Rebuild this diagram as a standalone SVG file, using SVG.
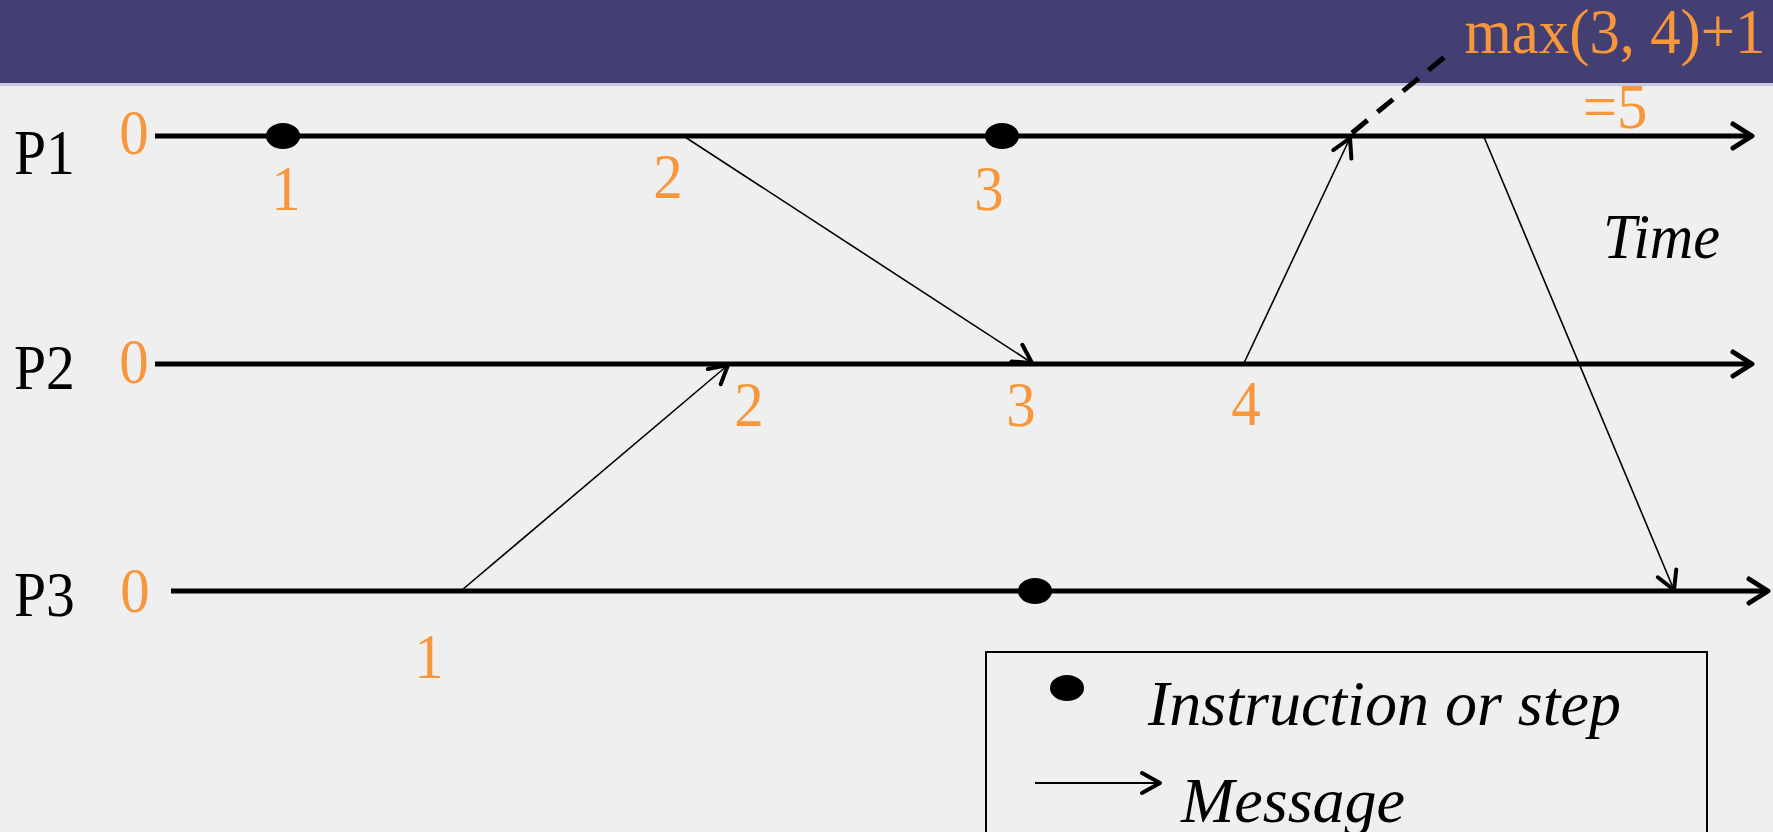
<svg xmlns="http://www.w3.org/2000/svg" width="1773" height="832" viewBox="0 0 1773 832">
<defs>
<style>
.bg{fill:#EFEFEF}
.tl{stroke:#000;stroke-width:5;fill:none}
.msg{stroke:#000;stroke-width:1.6;fill:none}
.dot{fill:#000}
.lbl{font-family:"Liberation Serif","Times New Roman",serif;font-size:64px;fill:#000}
.num{font-family:"Liberation Serif","Times New Roman",serif;font-size:64px;fill:#F7963A;text-anchor:middle}
.it{font-style:italic}
</style>
<marker id="bigArrow" markerUnits="userSpaceOnUse" viewBox="-24 -16 28 32" refX="0" refY="0" markerWidth="28" markerHeight="32" orient="auto" overflow="visible">
<path d="M -19 -12 L 0 0 L -19 12" fill="none" stroke="#000" stroke-width="5" stroke-linecap="round" stroke-linejoin="round"/>
</marker>
<marker id="msgArrow" markerUnits="userSpaceOnUse" viewBox="-24 -16 28 32" refX="0" refY="0" markerWidth="28" markerHeight="32" orient="auto" overflow="visible">
<path d="M -18 -10 L 0 0 L -18 10" fill="none" stroke="#000" stroke-width="4" stroke-linecap="round" stroke-linejoin="round"/>
</marker>
</defs>
<rect class="bg" x="0" y="0" width="1773" height="832"/>
<rect x="0" y="0" width="1773" height="83" fill="#433F73"/>
<rect x="0" y="83" width="1773" height="3" fill="#C9C7E6"/>
<rect x="0" y="86" width="1773" height="4" fill="#EDEEE8"/>

<g id="timelines">
<g id="p1">
<text class="lbl" transform="matrix(0.9 0 0 1 14 174)">P1</text>
<text class="num" transform="matrix(0.92 0 0 1 134 154)">0</text>
<line class="tl" x1="155" y1="136" x2="1752" y2="136" marker-end="url(#bigArrow)"/>
</g>
<g id="p2">
<text class="lbl" transform="matrix(0.9 0 0 1 14 389)">P2</text>
<text class="num" transform="matrix(0.92 0 0 1 134 383)">0</text>
<line class="tl" x1="155" y1="364" x2="1752" y2="364" marker-end="url(#bigArrow)"/>
</g>
<g id="p3">
<text class="lbl" transform="matrix(0.9 0 0 1 14 616)">P3</text>
<text class="num" transform="matrix(0.92 0 0 1 135 612)">0</text>
<line class="tl" x1="171" y1="591" x2="1768" y2="591" marker-end="url(#bigArrow)"/>
</g>
</g>

<g id="events">
<ellipse class="dot" cx="283" cy="136" rx="17" ry="13"/>
<ellipse class="dot" cx="1002" cy="136" rx="17" ry="13"/>
<ellipse class="dot" cx="1035" cy="591" rx="17" ry="13"/>
</g>

<g id="connectors">
<line class="msg" x1="685" y1="137" x2="1032" y2="363" marker-end="url(#msgArrow)"/>
<line class="msg" x1="462" y1="590" x2="728" y2="365" marker-end="url(#msgArrow)"/>
<line class="msg" x1="1244" y1="363" x2="1350" y2="138" marker-end="url(#msgArrow)"/>
<line class="msg" x1="1484" y1="137" x2="1674" y2="590" marker-end="url(#msgArrow)"/>
<line x1="1352" y1="133" x2="1453" y2="50" stroke="#000" stroke-width="5" stroke-dasharray="20 13"/>
</g>

<g id="clock-labels">
<text class="num" transform="matrix(0.92 0 0 1 286 210)">1</text>
<text class="num" transform="matrix(0.92 0 0 1 668 198)">2</text>
<text class="num" transform="matrix(0.92 0 0 1 989 210)">3</text>
<text class="num" transform="matrix(0.92 0 0 1 749 426)">2</text>
<text class="num" transform="matrix(0.92 0 0 1 1021 426)">3</text>
<text class="num" transform="matrix(0.92 0 0 1 1246 425)">4</text>
<text class="num" transform="matrix(0.92 0 0 1 429 678)">1</text>
<text class="num" transform="matrix(0.95 0 0 1 1615 53)">max(3, 4)+1</text>
<text class="num" transform="matrix(0.95 0 0 1 1615 128)">=5</text>
</g>

<g id="time-label">
<text class="lbl it" transform="matrix(0.94 0 0 1 1603 258)">Time</text>
</g>

<g id="legend">
<rect x="986" y="652" width="721" height="190" fill="none" stroke="#000" stroke-width="2"/>
<ellipse class="dot" cx="1067" cy="688" rx="17" ry="13"/>
<text class="lbl it" x="1148" y="725">Instruction or step</text>
<line x1="1035" y1="783" x2="1160" y2="783" stroke="#000" stroke-width="2" marker-end="url(#msgArrow)"/>
<text class="lbl it" x="1181" y="822">Message</text>
</g>
</svg>
